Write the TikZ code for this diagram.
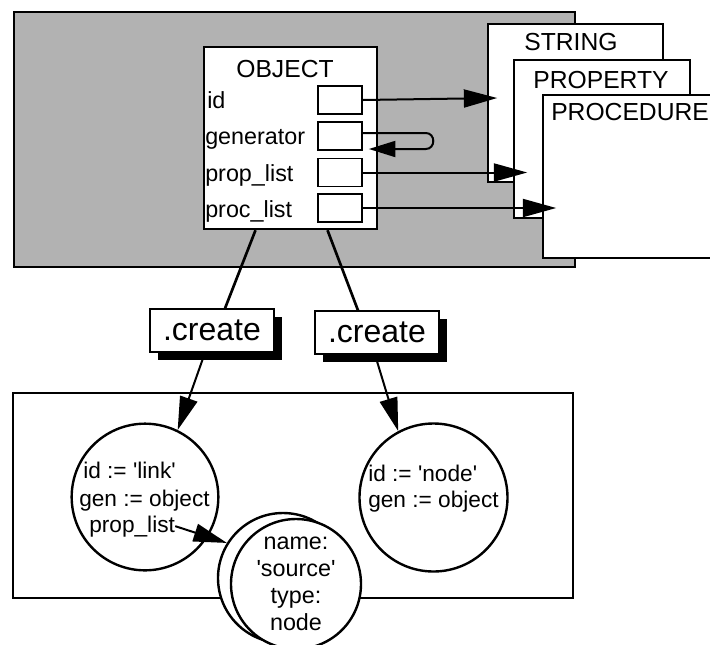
\documentclass[tikz,border=0pt]{standalone}
\usepackage{fontspec}
\setmainfont{Liberation Sans}
\usetikzlibrary{arrows.meta,calc,shadows}

\begin{document}
\begin{tikzpicture}[x=0.75pt,y=0.75pt,yscale=-1,xscale=1,
  bigarrow/.style={line width=1.5pt,-{Triangle[length=25pt,width=13.5pt]}},
  loopback/.style={line width=1.5pt,-{Triangle[length=20pt,width=12pt]}},
  box/.style={draw,line width=1.2pt,fill=white,inner sep=0pt},
  field/.style={box,minimum width=33pt,minimum height=21pt},
  title/.style={font=\fontsize{18.5}{22}\selectfont,inner sep=0pt},
  fieldlbl/.style={font=\fontsize{17.5}{21}\selectfont,inner sep=0pt,anchor=base west},
  method/.style={box,minimum width=93pt,minimum height=32pt,font=\fontsize{24}{28}\selectfont,
    drop shadow={shadow xshift=6pt,shadow yshift=-6pt,opacity=1,fill=black}},
  inst/.style={circle,draw,line width=1.8pt,fill=white,inner sep=0pt},
  insttxt/.style={font=\fontsize{17}{19.5}\selectfont,inner sep=0pt,anchor=base west}]
 \useasboundingbox (0,0) rectangle (710,644);
 \clip (0,0) rectangle (710,644);

 % class level
 \draw[line width=1.8pt,fill=black!30] (14,12) rectangle (575,267);
 \node[box,minimum width=131.25pt,minimum height=118.5pt] (str) at (575.5,103) {};
 \node[box,minimum width=132pt,minimum height=118.5pt] (prp) at (602,139) {};
 \node[box,minimum width=136.5pt,minimum height=122.25pt] (prc) at (634,176.5) {};
 \node[title,anchor=base] (str-t) at (571,50) {STRING};
 \node[title,anchor=base] (prp-t) at (601,88) {PROPERTY};
 \node[title,anchor=base west] (prc-t) at (551,120) {PROCEDURE};

 \node[box,line width=1.8pt,minimum width=129.75pt,minimum height=136.5pt] (obj) at (290.5,138) {};
 \node[title,anchor=base] (obj-t) at (285,77) {OBJECT};
 \node[fieldlbl] (l-id) at (207,108) {id};
 \node[fieldlbl] (l-gen) at (205,144) {generator};
 \node[fieldlbl] (l-prop) at (205,181) {prop\_list};
 \node[fieldlbl] (l-proc) at (205,217) {proc\_list};
 \node[field] (f-id) at (340,100) {};
 \node[field] (f-gen) at (340,136) {};
 \node[field] (f-prop) at (340,172.5) {};
 \node[field] (f-proc) at (340,208) {};

 \draw[bigarrow] (f-id.east) -- ($(f-id.east -| str.west)+(10,-2)$);
 \draw[loopback] ($(f-gen.east)+(0,-3)$) -- ++(63,0) to[out=0,in=0,looseness=1.6] ++(0,16) -- ($(f-gen.east)+(6,13)$);
 \draw[bigarrow] (f-prop.east) -- ($(f-prop.east -| prp.west)+(14,0)$);
 \draw[bigarrow] (f-proc.east) -- ($(f-proc.east -| prc.west)+(14,0)$);

 % instance level
 \node[method] (cr1) at (212,330.5) {.create};
 \node[method] (cr2) at (377,332.5) {.create};
 \draw[line width=2pt] ($(obj.south)+(-35,0)$) -- ($(cr1.north)+(13,0)$);
 \draw[line width=2pt] ($(obj.south)+(37,0)$) -- ($(cr2.north)+(-19,0)$);

 \draw[line width=1.2pt] (13,393) rectangle (573,598);
 \node[inst,minimum size=110pt] (link) at (145,497) {};
 \node[inst,minimum size=111pt] (nd) at (433.5,497.5) {};
 \node[insttxt] (lk-id) at (83,478) {id := \textquotesingle link\textquotesingle};
 \node[insttxt] (lk-gen) at (79,506) {gen := object};
 \node[insttxt] (lk-prop) at (89,532) {prop\_list};
 \node[insttxt,align=left] (nd-txt) at (368,507) {id := \textquotesingle node\textquotesingle\\gen := object};

 \node[inst,minimum size=97.5pt] (srcb) at (283,578) {};
 \node[inst,minimum size=97.5pt,align=center,font=\fontsize{17.5}{20.25}\selectfont] (src) at (296,584)
   {name:\\\textquotesingle source\textquotesingle\\type:\\node};

 \draw[bigarrow] ($(cr1.south)+(-7,0)$) -- (link.64);
 \draw[bigarrow] ($(cr2.south)+(-2,0)$) -- (nd.118);
 \draw[bigarrow] (lk-prop.east) -- (srcb.148);
\end{tikzpicture}
\end{document}
